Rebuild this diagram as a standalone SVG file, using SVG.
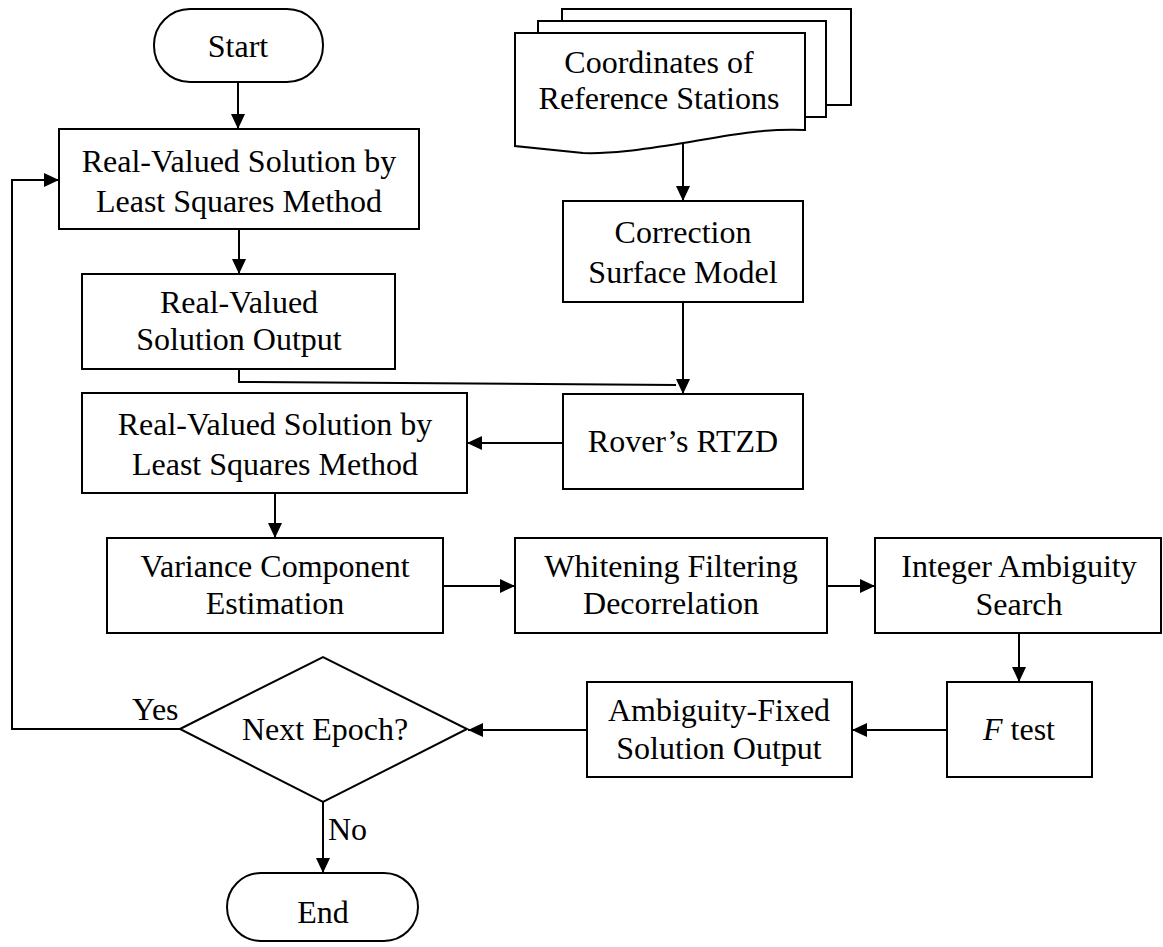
<svg xmlns="http://www.w3.org/2000/svg" width="1163" height="947" viewBox="0 0 1163 947">
<defs>
<style>
.box{fill:#fff;stroke:#000;stroke-width:2}
.t{font-family:"Liberation Serif","Times New Roman",serif;font-size:32px;fill:#000;text-anchor:middle}
.l{font-family:"Liberation Serif","Times New Roman",serif;font-size:32px;fill:#000}
.c{fill:none;stroke:#000;stroke-width:2}
</style>
<marker id="ah" viewBox="0 0 15 14" refX="15" refY="7" markerWidth="15" markerHeight="14" markerUnits="userSpaceOnUse" orient="auto">
<path d="M0,0 L15,7 L0,14 Z" fill="#000"/>
</marker>
</defs>
<rect width="1163" height="947" fill="#fff"/>
<g id="connectors">
<path class="c" d="M238,82 V129" marker-end="url(#ah)"/>
<path class="c" d="M239,229 V274" marker-end="url(#ah)"/>
<path class="c" d="M239,369 V382 L676,385"/>
<path class="c" d="M683,143 V201" marker-end="url(#ah)"/>
<path class="c" d="M683,302 V394" marker-end="url(#ah)"/>
<path class="c" d="M563,443 H467" marker-end="url(#ah)"/>
<path class="c" d="M275,493 V538" marker-end="url(#ah)"/>
<path class="c" d="M443,586 H515" marker-end="url(#ah)"/>
<path class="c" d="M827,586 H875" marker-end="url(#ah)"/>
<path class="c" d="M1019,633 V682" marker-end="url(#ah)"/>
<path class="c" d="M947,730 H852" marker-end="url(#ah)"/>
<path class="c" d="M587,730 H468" marker-end="url(#ah)"/>
<path class="c" d="M323,802 V873" marker-end="url(#ah)"/>
<path class="c" d="M180,729 H12 V180 H59" marker-end="url(#ah)"/>
<text class="l" x="132" y="720">Yes</text>
<text class="l" x="328" y="840">No</text>
</g>
<g id="start">
<rect class="box" x="154" y="9" width="169" height="73" rx="36" ry="36"/>
<text class="t" x="238" y="57">Start</text>
</g>
<g id="ls1">
<rect class="box" x="59" y="129" width="360" height="100"/>
<text class="t" x="239" y="172">Real-Valued Solution by</text>
<text class="t" x="239" y="212">Least Squares Method</text>
</g>
<g id="rvout">
<rect class="box" x="82" y="274" width="313" height="95"/>
<text class="t" x="239" y="313">Real-Valued</text>
<text class="t" x="239" y="350">Solution Output</text>
</g>
<g id="coords">
<rect class="box" x="562" y="9" width="289" height="96"/>
<rect class="box" x="538" y="21" width="288" height="96"/>
<path class="box" d="M515,33 H805 V130 C760,128 720,137 683,143 C640,150 610,154 583,153 L515,146 Z"/>
<text class="t" x="659" y="73">Coordinates of</text>
<text class="t" x="659" y="109">Reference Stations</text>
</g>
<g id="csm">
<rect class="box" x="563" y="201" width="240" height="101"/>
<text class="t" x="683" y="243">Correction</text>
<text class="t" x="683" y="283">Surface Model</text>
</g>
<g id="rtzd">
<rect class="box" x="563" y="394" width="240" height="95"/>
<text class="t" x="683" y="452">Rover’s RTZD</text>
</g>
<g id="ls2">
<rect class="box" x="82" y="393" width="385" height="100"/>
<text class="t" x="275" y="435">Real-Valued Solution by</text>
<text class="t" x="275" y="475">Least Squares Method</text>
</g>
<g id="vce">
<rect class="box" x="107" y="538" width="336" height="95"/>
<text class="t" x="275" y="577">Variance Component</text>
<text class="t" x="275" y="614">Estimation</text>
</g>
<g id="wfd">
<rect class="box" x="515" y="538" width="312" height="95"/>
<text class="t" x="671" y="577">Whitening Filtering</text>
<text class="t" x="671" y="614">Decorrelation</text>
</g>
<g id="ias">
<rect class="box" x="875" y="538" width="286" height="95"/>
<text class="t" x="1019" y="577">Integer Ambiguity</text>
<text class="t" x="1019" y="615">Search</text>
</g>
<g id="ftest">
<rect class="box" x="947" y="682" width="145" height="95"/>
<text class="t" x="1019" y="740"><tspan font-style="italic">F</tspan> test</text>
</g>
<g id="afs">
<rect class="box" x="587" y="682" width="265" height="95"/>
<text class="t" x="719" y="721">Ambiguity-Fixed</text>
<text class="t" x="719" y="759">Solution Output</text>
</g>
<g id="next">
<path class="box" d="M180,729 L323,657 L467,729 L323,802 Z"/>
<text class="t" x="325" y="740">Next Epoch?</text>
</g>
<g id="end">
<rect class="box" x="227" y="873" width="191" height="68" rx="34" ry="34"/>
<text class="t" x="323" y="923">End</text>
</g>
</svg>
